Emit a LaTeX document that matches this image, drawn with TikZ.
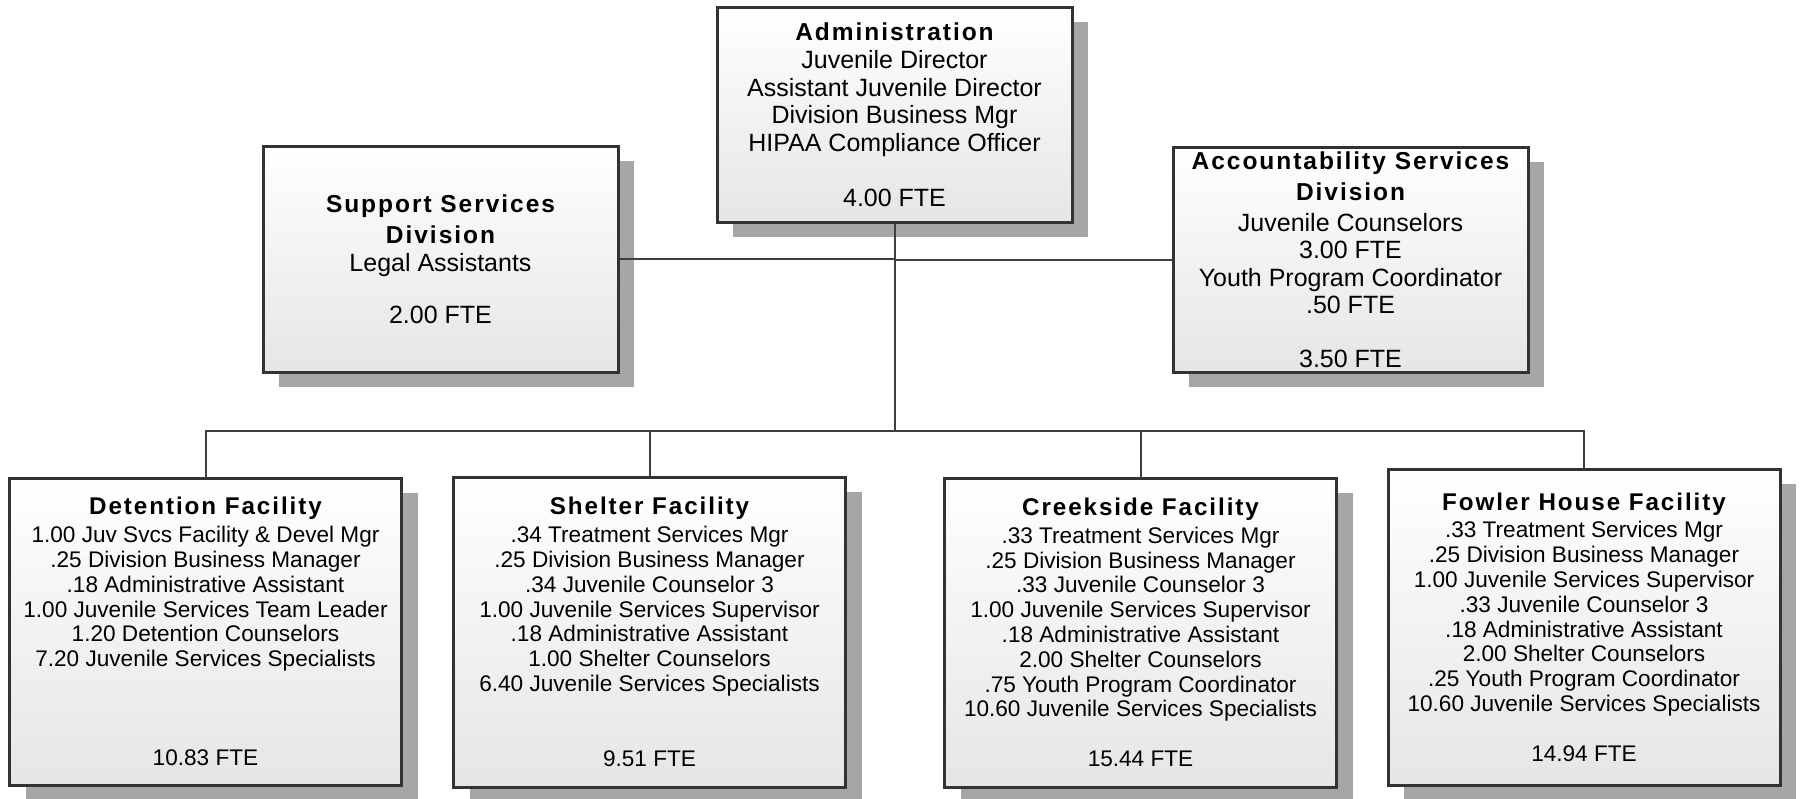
\documentclass[tikz,border=0pt]{standalone}
\usepackage{fontspec}
\setmainfont{Liberation Sans}
\usetikzlibrary{shadows}
\newcommand{\ttl}[2][24.5]{{\fontsize{#1}{#1}\selectfont\bfseries\addfontfeatures{LetterSpace=8}#2}}

\begin{document}
\begin{tikzpicture}[x=1pt,y=-1pt,
  unit/.style={draw=black!80, line width=3pt, top color=white, bottom color=black!10,
    drop shadow={shadow xshift=16pt,shadow yshift=-15pt,fill=black!35,opacity=1},
    align=center, inner sep=0pt},
  upper/.style={unit, minimum width=355pt, font=\fontsize{25}{27.5}\selectfont},
  lower/.style={unit, minimum width=392pt, font=\fontsize{22.6}{24.8}\selectfont},
  conn/.style={draw=black!75, line width=2pt}]
  \useasboundingbox (0,0) rectangle (1801,798);

  % top row
  \node[upper, minimum height=215pt] (admin) at (894.5,114.5)
    {\ttl{Administration}\\[1pt] Juvenile Director\\ Assistant Juvenile Director\\
     Division Business Mgr\\ HIPAA Compliance Officer\\[27.5pt] 4.00 FTE};
  \node[upper, minimum height=226pt] (support) at (440.5,259)
    {\ttl{Support Services}\\[4pt] \ttl{Division}\\ Legal Assistants\\[25pt] 2.00 FTE};
  \node[upper, minimum height=225pt] (acct) at (1350.5,259.5)
    {\ttl{Accountability Services}\\[4pt] \ttl{Division}\\[3pt] Juvenile Counselors\\ 3.00 FTE\\
     Youth Program Coordinator\\ .50 FTE\\[26pt] 3.50 FTE};

  % facilities
  \node[lower, minimum height=307pt] (detent) at (205.5,631.5)
    {\ttl[24.2]{Detention Facility}\\[3pt] 1.00 Juv Svcs Facility \& Devel Mgr\\
     .25 Division Business Manager\\ .18 Administrative Assistant\\
     1.00 Juvenile Services Team Leader\\ 1.20 Detention Counselors\\
     7.20 Juvenile Services Specialists\\[74pt] 10.83 FTE};
  \node[lower, minimum height=310pt] (shelter) at (649.5,632)
    {\ttl[24.2]{Shelter Facility}\\[3pt] .34 Treatment Services Mgr\\
     .25 Division Business Manager\\ .34 Juvenile Counselor 3\\
     1.00 Juvenile Services Supervisor\\ .18 Administrative Assistant\\
     1.00 Shelter Counselors\\ 6.40 Juvenile Services Specialists\\[50pt] 9.51 FTE};
  \node[lower, minimum height=309pt] (creek) at (1140.5,632.5)
    {\ttl[24.2]{Creekside Facility}\\[3pt] .33 Treatment Services Mgr\\
     .25 Division Business Manager\\ .33 Juvenile Counselor 3\\
     1.00 Juvenile Services Supervisor\\ .18 Administrative Assistant\\
     2.00 Shelter Counselors\\ .75 Youth Program Coordinator\\
     10.60 Juvenile Services Specialists\\[25pt] 15.44 FTE};
  \node[lower, minimum height=316pt] (fowler) at (1584,627)
    {\ttl[24.2]{Fowler House Facility}\\[3pt] .33 Treatment Services Mgr\\
     .25 Division Business Manager\\ 1.00 Juvenile Services Supervisor\\
     .33 Juvenile Counselor 3\\ .18 Administrative Assistant\\
     2.00 Shelter Counselors\\ .25 Youth Program Coordinator\\
     10.60 Juvenile Services Specialists\\[25pt] 14.94 FTE};

  % connectors
  \coordinate (bus) at (894.5,431);
  \draw[conn] (admin.south) -- (bus);
  \draw[conn] (support.east) -- (support.east -| admin.south);
  \draw[conn] (acct.west) -- (acct.west -| admin.south);
  \draw[conn] (detent.north) -- (detent.north |- bus) -- (fowler.north |- bus) -- (fowler.north);
  \foreach \n in {shelter,creek}
    \draw[conn] (\n.north) -- (\n.north |- bus);
\end{tikzpicture}
\end{document}
